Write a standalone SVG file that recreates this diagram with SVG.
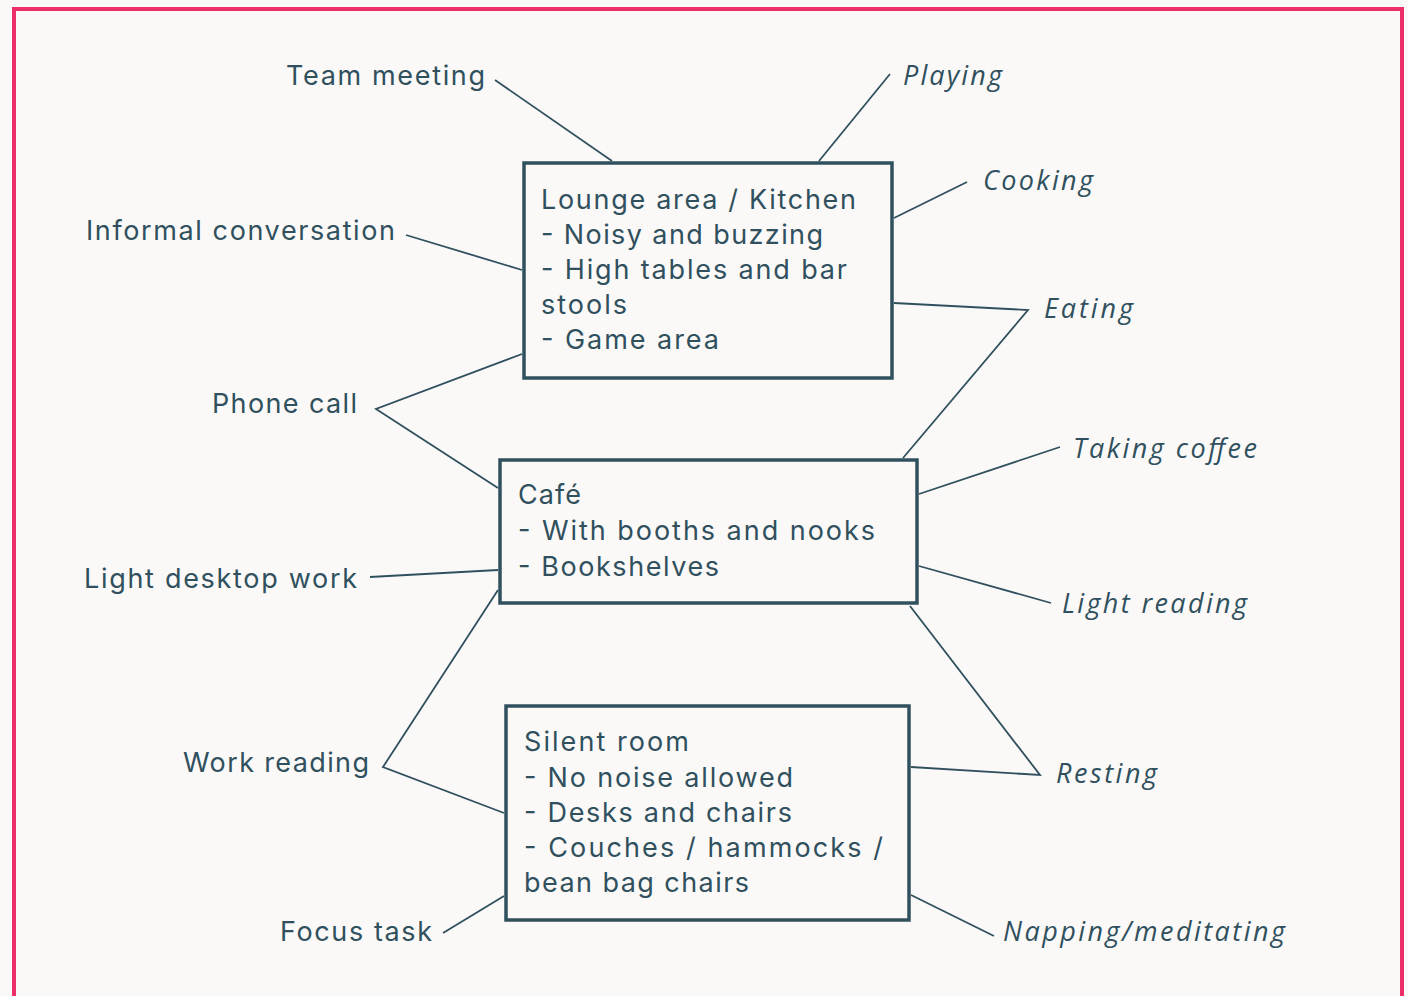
<svg xmlns="http://www.w3.org/2000/svg" width="1408" height="996" viewBox="0 0 1408 996">
<style>
.bg{fill:#FAF9F8}
.frame{fill:none;stroke:#EC2F69;stroke-width:4}
.box{fill:#FAF9F8;stroke:#30505E;stroke-width:3.5}
.t{font-family:Inter,"Open Sans","Noto Sans",sans-serif;font-size:27px;fill:#30505E}
.i{font-family:"Open Sans","Noto Sans",sans-serif;font-size:27px;font-style:italic;fill:#30505E}
.c{fill:none;stroke:#30505E;stroke-width:1.8;stroke-linejoin:miter}
</style>
<rect class="bg" x="0" y="0" width="1408" height="996"/>
<rect class="frame" x="14" y="9" width="1388" height="1010"/>
<g id="connectors">
<polyline class="c" points="495,80 612,161"/>
<polyline class="c" points="890,74 819,161"/>
<polyline class="c" points="967,182 894,218"/>
<polyline class="c" points="406,235 522,270"/>
<polyline class="c" points="894,303 1028,310 903,458"/>
<polyline class="c" points="522,354 376,409 498,488"/>
<polyline class="c" points="919,494 1060,447"/>
<polyline class="c" points="370,577 498,570"/>
<polyline class="c" points="919,566 1051,603"/>
<polyline class="c" points="910,606 1040,775 911,767"/>
<polyline class="c" points="498,590 383,767 504,813"/>
<polyline class="c" points="443,933 504,896"/>
<polyline class="c" points="911,895 994,936"/>
</g>
<g id="lounge">
<rect class="box" x="524" y="163" width="368" height="215"/>
<text class="t"><tspan x="541" y="209" textLength="315" lengthAdjust="spacing">Lounge area / Kitchen</tspan><tspan x="541" y="244" textLength="282" lengthAdjust="spacing">- Noisy and buzzing</tspan><tspan x="541" y="279" textLength="306" lengthAdjust="spacing">- High tables and bar</tspan><tspan x="541" y="314" textLength="86" lengthAdjust="spacing">stools</tspan><tspan x="541" y="349" textLength="178" lengthAdjust="spacing">- Game area</tspan></text>
</g>
<g id="cafe">
<rect class="box" x="500" y="460" width="417" height="143"/>
<text class="t"><tspan x="518" y="504" textLength="63" lengthAdjust="spacing">Café</tspan><tspan x="518" y="540" textLength="357" lengthAdjust="spacing">- With booths and nooks</tspan><tspan x="518" y="576" textLength="201" lengthAdjust="spacing">- Bookshelves</tspan></text>
</g>
<g id="silent">
<rect class="box" x="506" y="706" width="403" height="214"/>
<text class="t"><tspan x="524" y="751" textLength="165" lengthAdjust="spacing">Silent room</tspan><tspan x="524" y="787" textLength="269" lengthAdjust="spacing">- No noise allowed</tspan><tspan x="524" y="822" textLength="268" lengthAdjust="spacing">- Desks and chairs</tspan><tspan x="524" y="857" textLength="359" lengthAdjust="spacing">- Couches / hammocks /</tspan><tspan x="524" y="892" textLength="225" lengthAdjust="spacing">bean bag chairs</tspan></text>
</g>
<g id="team-meeting"><text class="t" x="286" y="85" textLength="199" lengthAdjust="spacing">Team meeting</text></g>
<g id="playing"><text class="i" x="903" y="85" textLength="99" lengthAdjust="spacing">Playing</text></g>
<g id="cooking"><text class="i" x="983" y="190" textLength="110" lengthAdjust="spacing">Cooking</text></g>
<g id="informal-conversation"><text class="t" x="86" y="240" textLength="309" lengthAdjust="spacing">Informal conversation</text></g>
<g id="eating"><text class="i" x="1044" y="318" textLength="89" lengthAdjust="spacing">Eating</text></g>
<g id="phone-call"><text class="t" x="212" y="413" textLength="145" lengthAdjust="spacing">Phone call</text></g>
<g id="taking-coffee"><text class="i" x="1073" y="458" textLength="184" lengthAdjust="spacing">Taking coffee</text></g>
<g id="light-desktop-work"><text class="t" x="84" y="588" textLength="273" lengthAdjust="spacing">Light desktop work</text></g>
<g id="light-reading"><text class="i" x="1062" y="613" textLength="185" lengthAdjust="spacing">Light reading</text></g>
<g id="work-reading"><text class="t" x="183" y="772" textLength="186" lengthAdjust="spacing">Work reading</text></g>
<g id="resting"><text class="i" x="1056" y="783" textLength="101" lengthAdjust="spacing">Resting</text></g>
<g id="focus-task"><text class="t" x="280" y="941" textLength="152" lengthAdjust="spacing">Focus task</text></g>
<g id="napping"><text class="i" x="1003" y="941" textLength="282" lengthAdjust="spacing">Napping/meditating</text></g>
</svg>
